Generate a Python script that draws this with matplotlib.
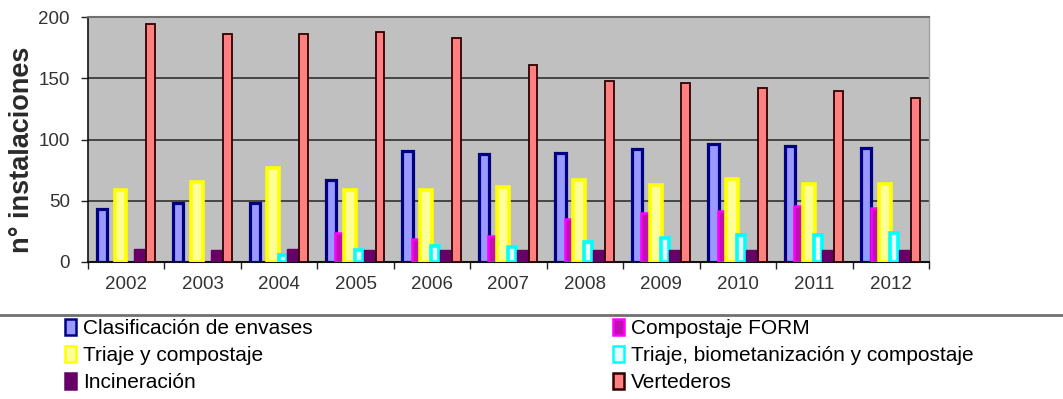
import numpy as np
import matplotlib
matplotlib.use("Agg")
import matplotlib.pyplot as plt
from matplotlib.patches import Patch
from matplotlib.lines import Line2D

years = ["2002", "2003", "2004", "2005", "2006", "2007", "2008", "2009", "2010", "2011", "2012"]
clasificacion = [43, 48, 48, 67, 91, 88, 89, 92, 96, 95, 93]
compostaje_form = [0, 0, 0, 24, 19, 21, 35, 40, 42, 46, 44]
triaje_compostaje = [59, 65, 77, 59, 59, 61, 67, 63, 68, 64, 64]
triaje_biomet = [0, 0, 6, 10, 13, 12, 16, 20, 22, 22, 24]
incineracion = [11, 10, 11, 10, 10, 10, 10, 10, 10, 10, 10]
vertederos = [194, 186, 186, 188, 183, 161, 148, 146, 142, 140, 134]

labels = ["Clasificación de envases", "Compostaje FORM", "Triaje y compostaje",
          "Triaje, biometanización y compostaje", "Incineración", "Vertederos"]
series = [clasificacion, compostaje_form, triaje_compostaje, triaje_biomet, incineracion, vertederos]

# style: (offset, width, face, edge, lw)
styles = [
    (-0.32, 0.135, "#9999FF", "#000080", 2.3),
    (-0.21, 0.11, "#C010B0", "#FF00FF", 1.8),
    (-0.075, 0.155, "#FFFF99", "#FFFF00", 2.6),
    (0.045, 0.105, "#E8FFFF", "#00FFFF", 2.6),
    (0.18, 0.15, "#660066", "#660066", 1.0),
    (0.32, 0.115, "#FF8080", "#300000", 1.3),
]

fig = plt.figure(figsize=(10.63, 3.99), dpi=100)
ax = fig.add_axes([88 / 1063, 1 - 262 / 399, (929 - 88) / 1063, (262 - 17) / 399])
ax.set_facecolor("#C0C0C0")

x = np.arange(len(years))
for vals, (off, w, fc, ec, lw) in zip(series, styles):
    v = np.array(vals, dtype=float)
    v = np.where(v > 0, v, np.nan)
    ax.bar(x + off, v, width=w, color=fc, edgecolor=ec, linewidth=lw, zorder=3)

ax.set_xlim(-0.5, len(years) - 0.5)
ax.set_ylim(0, 200)
ax.set_yticks([0, 50, 100, 150, 200])
for yv in [50, 100, 150]:
    ax.axhline(yv, color="#303030", lw=1.2, zorder=1)

ax.set_xticks(x)
ax.set_xticklabels(years)
ax.set_xticks(np.arange(-0.5, len(years), 1.0), minor=True)
ax.tick_params(axis="x", which="major", length=0, pad=10, labelsize=13.5, labelcolor="#333333")
ax.tick_params(axis="x", which="minor", length=5, width=1, color="#222222", direction="out")
ax.tick_params(axis="y", length=5, width=1, color="#222222", pad=8, labelsize=13.5, labelcolor="#333333")
for t in ax.get_xticklabels() + ax.get_yticklabels():
    t.set_family(["Liberation Sans", "DejaVu Sans"])

ax.spines["left"].set_color("#111111")
ax.spines["bottom"].set_color("#111111")
ax.spines["left"].set_linewidth(1.2)
ax.spines["bottom"].set_linewidth(1.5)
ax.spines["top"].set_color("#707070")
ax.spines["top"].set_linewidth(1.5)
ax.spines["right"].set_color("#A0A0A0")
ax.spines["right"].set_linewidth(1.0)

ax.set_ylabel("n° instalaciones", fontsize=19.5, fontweight="bold",
              family=["Liberation Sans", "DejaVu Sans"], color="#2a2a2a")
ax.yaxis.set_label_coords((35 - 88) / 841, (262 - 150) / 245)

# separator line
fig.add_artist(Line2D([0, 1], [1 - 315 / 399, 1 - 315 / 399], transform=fig.transFigure,
                      color="#707070", lw=2))

def handle(i):
    off, w, fc, ec, lw = styles[i]
    return Patch(facecolor=fc, edgecolor=ec, linewidth=1.8)

left_idx = [0, 2, 4]
right_idx = [1, 3, 5]
common = dict(frameon=False, handlelength=0.55, handleheight=0.8,
              handletextpad=0.3, labelspacing=0.38, borderaxespad=0, borderpad=0,
              prop={"family": ["Liberation Sans", "DejaVu Sans"], "size": 15})
leg1 = fig.legend([handle(i) for i in left_idx], [labels[i] for i in left_idx],
                  loc="upper left", bbox_to_anchor=(65 / 1063, 1 - 319 / 399), **common)
leg2 = fig.legend([handle(i) for i in right_idx], [labels[i] for i in right_idx],
                  loc="upper left", bbox_to_anchor=(613 / 1063, 1 - 319 / 399), **common)

fig.savefig("out.png", dpi=100, facecolor="white")
